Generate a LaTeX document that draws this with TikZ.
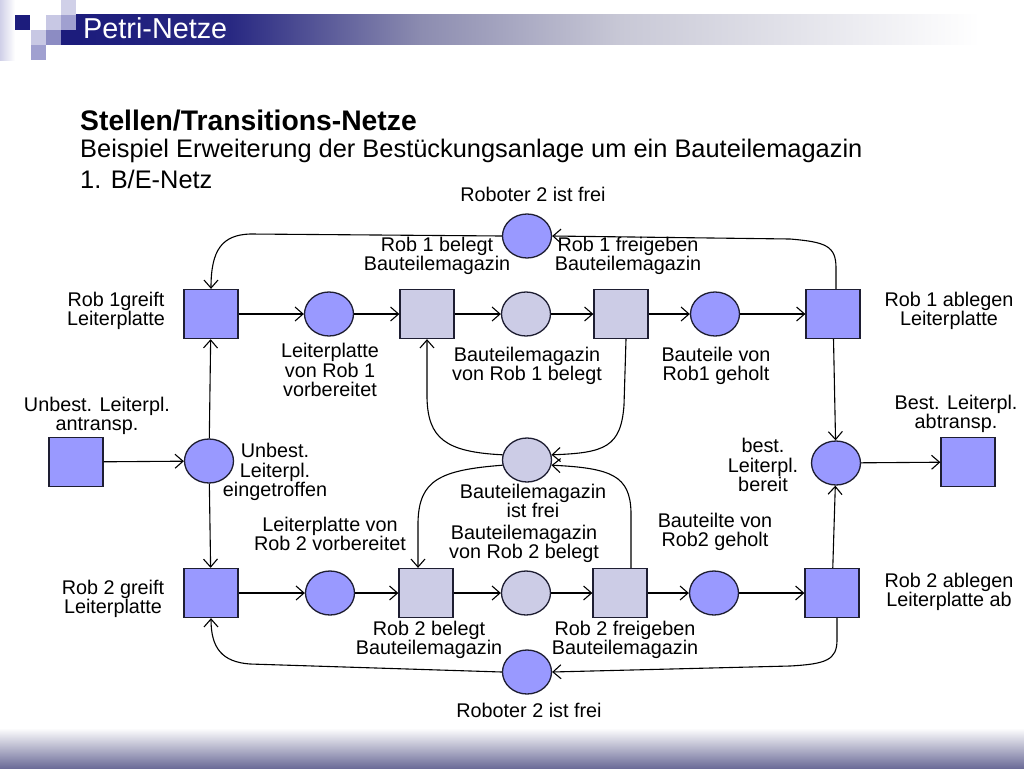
\documentclass[tikz,border=0pt]{standalone}
\usepackage{fontspec}
\setmainfont{Liberation Sans}
\usetikzlibrary{shapes.geometric,arrows.meta,calc}
\definecolor{tdark}{RGB}{153,153,255}
\definecolor{tlight}{RGB}{204,204,230}
\definecolor{navy}{RGB}{28,28,124}
\definecolor{bord}{RGB}{30,30,50}
\definecolor{sqa}{RGB}{200,200,228}
\definecolor{sqb}{RGB}{160,160,208}
\definecolor{sqc}{RGB}{208,208,232}
\definecolor{barb}{RGB}{40,40,130}
\definecolor{barc}{RGB}{140,140,176}
\definecolor{bard}{RGB}{200,200,214}
\definecolor{footc}{RGB}{108,108,152}
\newcommand\lblfnt{\fontsize{19.8}{19.5}\selectfont}
\begin{document}
\begin{tikzpicture}[x=1pt,y=-1pt,
  trans/.style={rectangle, draw=bord, line width=1.3pt, fill=tdark, minimum width=54pt, minimum height=49pt, inner sep=0pt},
  transl/.style={trans, fill=tlight},
  place/.style={ellipse, draw=bord, line width=1.3pt, fill=tdark, minimum width=49pt, minimum height=44pt, inner sep=0pt},
  placel/.style={place, fill=tlight},
  arc/.style={draw=black, line width=1.1pt, -{Straight Barb[length=8pt,width=14pt]}},
  lbl/.style={align=center, font=\lblfnt, inner sep=0pt}]
\useasboundingbox (0,0) rectangle (1024,768);
% header decoration
\shade[left color=sqc, right color=white] (0,0) rectangle (15,60);
\fill[navy] (15,15) rectangle +(15,15);
\fill[sqa] (46,15) rectangle +(15,15);
\fill[sqb] (61,15) rectangle +(15,15);
\fill[sqc] (61,0) rectangle +(15,15);
\fill[sqa] (31,30) rectangle +(15,15);
\fill[sqb!85!navy] (46,30) rectangle +(15,15);
\fill[sqb] (31,45) rectangle +(15,15);
\fill[navy] (61,30) rectangle (77,45);
\shade[left color=navy, right color=barb] (76,15) rectangle (231,45);
\shade[left color=barb, right color=barc] (230,15) rectangle (421,45);
\shade[left color=barc, right color=bard] (420,15) rectangle (621,45);
\shade[left color=bard, right color=white] (620,15) rectangle (980,45);
\node[anchor=base west, inner sep=0pt, text=white, font=\fontsize{28.8}{28.8}\selectfont] (hdr) at (83,38) {Petri-Netze};
% footer
\shade[top color=white, bottom color=footc] (0,728) rectangle (1024,768);
% titles
\node[anchor=base west, inner sep=0pt, font=\fontsize{28.3}{28.3}\selectfont\bfseries] (t1) at (80,130) {Stellen/Transitions-Netze};
\node[anchor=base west, inner sep=0pt, font=\fontsize{25.4}{25.4}\selectfont] (t2) at (80,157) {Beispiel Erweiterung der Bestückungsanlage um ein Bauteilemagazin};
\node[anchor=base west, inner sep=0pt, font=\fontsize{25.4}{25.4}\selectfont] (t3) at (80,188) {1. B/E-Netz};
% nodes
\node[trans] (r1g) at (211,314) {};
\node[place] (p1) at (329,314) {};
\node[transl] (s2) at (427,314) {};
\node[placel] (p2) at (526,314) {};
\node[transl] (s3) at (621,314) {};
\node[place] (p3) at (715,314) {};
\node[trans] (r1a) at (833,314) {};
\node[place] (ptop) at (527,236) {};
\node[trans] (tin) at (76,462) {};
\node[place] (pin) at (209,461) {};
\node[placel] (pm) at (527,460) {};
\node[place] (pout) at (836,463) {};
\node[trans] (tout) at (968,462) {};
\node[trans] (r2g) at (211,593) {};
\node[place] (q1) at (330,593) {};
\node[transl] (b2) at (426,593) {};
\node[placel] (q2) at (526,593) {};
\node[transl] (b3) at (620,593) {};
\node[place] (q3) at (714,593) {};
\node[trans] (r2a) at (832,593) {};
\node[place] (pbot) at (527,672) {};
% labels
\node[lbl] (l1) at (533,194) {Roboter 2 ist frei};
\node[lbl] (l2) at (437,256) {Rob 1 belegt\\Bauteilemagazin};
\node[lbl] (l3) at (628,256) {Rob 1 freigeben\\Bauteilemagazin};
\node[lbl] (l4) at (116,311) {Rob 1greift\\Leiterplatte};
\node[lbl] (l5) at (949,311) {Rob 1 ablegen\\Leiterplatte};
\node[lbl] (l6) at (330,370) {Leiterplatte\\von Rob 1\\vorbereitet};
\node[lbl] (l7) at (527,366) {Bauteilemagazin\\von Rob 1 belegt};
\node[lbl] (l8) at (716,366) {Bauteile von\\Rob1 geholt};
\node[lbl] (l9) at (97,416) {Unbest. Leiterpl.\\antransp.};
\node[lbl] (l10) at (956,414) {Best. Leiterpl.\\abtransp.};
\node[lbl] (l11) at (275,472) {Unbest.\\Leiterpl.\\eingetroffen};
\node[lbl] (l12) at (763,465) {best.\\Leiterpl.\\bereit};
\node[lbl] (l13) at (533,501) {Bauteilemagazin\\ist frei};
\node[lbl] (l14) at (524,544) {Bauteilemagazin\\von Rob 2 belegt};
\node[lbl] (l15) at (330,534) {Leiterplatte von\\Rob 2 vorbereitet};
\node[lbl] (l16) at (715,532) {Bauteilte von\\Rob2 geholt};
\node[lbl] (l17) at (113,599) {Rob 2 greift\\Leiterplatte};
\node[lbl] (l18) at (949,592) {Rob 2 ablegen\\Leiterplatte ab};
\node[lbl] (l19) at (429,640) {Rob 2 belegt\\Bauteilemagazin};
\node[lbl] (l20) at (625,640) {Rob 2 freigeben\\Bauteilemagazin};
\node[lbl] (l21) at (529,710) {Roboter 2 ist frei};
% row arcs
\draw[arc] (r1g) -- (p1);
\draw[arc] (p1) -- (s2);
\draw[arc] (s2) -- (p2);
\draw[arc] (p2) -- (s3);
\draw[arc] (s3) -- (p3);
\draw[arc] (p3) -- (r1a);
\draw[arc] (r2g) -- (q1);
\draw[arc] (q1) -- (b2);
\draw[arc] (b2) -- (q2);
\draw[arc] (q2) -- (b3);
\draw[arc] (b3) -- (q3);
\draw[arc] (q3) -- (r2a);
% vertical arcs
\draw[arc] (tin) -- (pin);
\draw[arc] (pin) -- (r1g);
\draw[arc] (pin) -- (r2g);
\draw[arc] (r1a) -- (pout);
\draw[arc] (r2a) -- (pout);
\draw[arc] (pout) -- (tout);
% robot loops
\draw[arc] ($(r1a.north)+(3,0)$) -- (836,268) .. controls (836,246) and (826,242) .. (790,239) -- (ptop.east);
\draw[arc] (ptop.west) -- (250,234) .. controls (222,235) and (211,250) .. (r1g.north);
\draw[arc] ($(r2a.south)+(5,0)$) -- (837,640) .. controls (837,660) and (826,664) .. (790,666) -- (pbot.east);
\draw[arc] (pbot.west) -- (250,664) .. controls (222,662) and (211,648) .. (r2g.south);
% magazine loops
\draw[arc] ($(s3.south)+(5,0)$) -- (624,405) .. controls (621,447) and (605,453) .. (pm.12);
\draw[arc] (pm.168) .. controls (445,452) and (428,438) .. (427,398) -- (s2.south);
\draw[arc] (pm.192) .. controls (440,470) and (419,480) .. (418,522) -- ($(b2.north)+(-8,0)$);
\draw[arc] ($(b3.north)+(11,0)$) -- (631,512) .. controls (630,476) and (612,468) .. (pm.-12);
\end{tikzpicture}
\end{document}
